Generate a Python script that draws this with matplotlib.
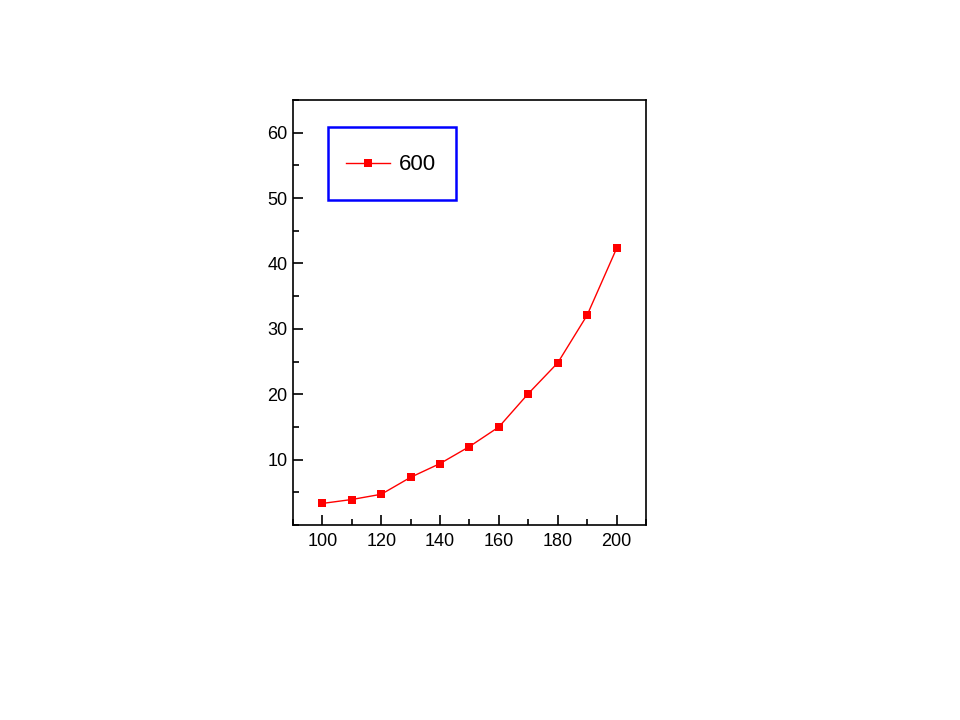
import matplotlib.pyplot as plt
from matplotlib.patches import Rectangle
from matplotlib.ticker import MultipleLocator

# Data
x_vals = [100, 110, 120, 130, 140, 150, 160, 170, 180, 190, 200]
y_vals = [3.3, 3.9, 4.7, 7.3, 9.4, 12.0, 15.0, 20.1, 24.8, 32.1, 42.3]
series_label = "600"
y_ticks = [10, 20, 30, 40, 50, 60]

plt.rcParams['font.family'] = ['Liberation Sans', 'DejaVu Sans']

W, H = 960, 720
fig = plt.figure(figsize=(9.6, 7.2), dpi=100)
# axes box in pixels: left 293, right 646, top 100, bottom 525
L, R, T, B = 293, 646, 100, 525
ax = fig.add_axes([L / W, 1 - B / H, (R - L) / W, (B - T) / H])

ax.plot(x_vals, y_vals, color='red', linewidth=1, marker='s',
        markersize=6, markeredgewidth=0, label=series_label)

ax.set_xlim(90, 210)
ax.set_ylim(0, 65)
ax.xaxis.set_major_locator(MultipleLocator(20))
ax.xaxis.set_minor_locator(MultipleLocator(10))
ax.set_yticks(y_ticks)
ax.yaxis.set_minor_locator(MultipleLocator(5))
ax.tick_params(which='both', direction='in', top=False, right=False,
               labelsize=13, width=1.2, colors='black')
ax.tick_params(which='major', length=7)
ax.tick_params(which='minor', length=4)
ax.tick_params(axis='x', which='major', pad=6)
ax.tick_params(axis='y', which='major', pad=4)
for sp in ax.spines.values():
    sp.set_linewidth(1.2)

# blue legend frame, pixels: x 328-456, y 127-200
aw, ah = R - L, B - T
box = Rectangle(((328 - L) / aw, (B - 200) / ah), 128 / aw, 73 / ah,
                transform=ax.transAxes, fill=False, edgecolor='blue',
                linewidth=1.8, zorder=5)
ax.add_patch(box)

leg = ax.legend(loc='center left',
                bbox_to_anchor=((346 - L) / aw, (B - 165) / ah),
                borderaxespad=0, borderpad=0, fontsize=16, frameon=False,
                handlelength=2.0, handletextpad=0.4)

fig.savefig("out.png", dpi=100)
